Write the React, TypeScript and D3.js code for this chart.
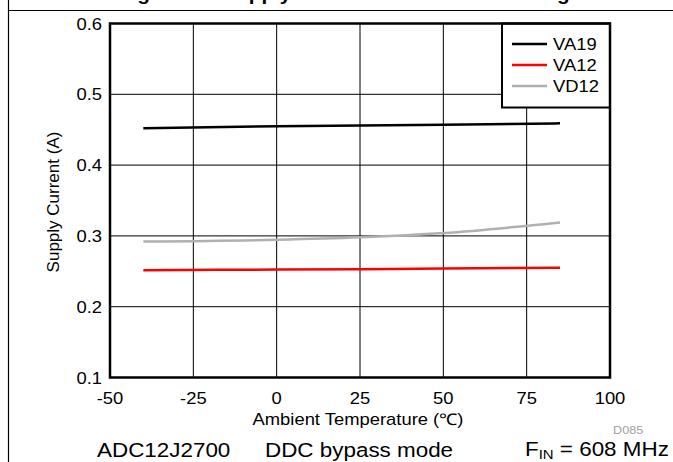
import React from "react";
import * as d3 from "d3";

const temps = [-40, 0, 25, 50, 85];
const va19 = [0.452, 0.455, 0.456, 0.457, 0.459];
const va12 = [0.2515, 0.2525, 0.253, 0.254, 0.255];
const vd12 = [0.292, 0.2945, 0.298, 0.304, 0.319];
const seriesNames = ["VA19", "VA12", "VD12"];
const seriesColors = ["#000000", "#ff0000", "#b0b0b0"];
const xTicks = [-50, -25, 0, 25, 50, 75, 100];
const yTicks = [0.1, 0.2, 0.3, 0.4, 0.5, 0.6];

const W = 673;
const H = 462;
const FONT = "'Liberation Sans', Arial, Helvetica, sans-serif";
const SX = 1.15;

function T(props: {
  x: number;
  y: number;
  size: number;
  anchor?: string;
  fill?: string;
  weight?: string;
  children: React.ReactNode;
}) {
  const { x, y, size, anchor = "start", fill = "#000", weight = "normal" } = props;
  return (
    <text
      transform={`translate(${x},${y}) scale(${SX},1)`}
      fontSize={size}
      textAnchor={anchor}
      fill={fill}
      fontWeight={weight}
      fontFamily={FONT}
    >
      {props.children}
    </text>
  );
}

export default function App() {
  const x = d3.scaleLinear().domain([-50, 100]).range([110, 610]);
  const y = d3.scaleLinear().domain([0.1, 0.6]).range([377.5, 23.5]);
  const series = [va19, va12, vd12];
  const line = d3
    .line<[number, number]>()
    .x((d) => x(d[0]))
    .y((d) => y(d[1]))
    .curve(d3.curveMonotoneX);

  const legX = 502;
  const legY = 23.5;

  return (
    <svg
      width={W}
      height={H}
      style={{ position: "absolute", left: 0, top: 0, background: "#fff" }}
    >
      <rect x={0} y={0} width={W} height={H} fill="#fff" />
      {/* frame */}
      <line x1={8.5} y1={0} x2={8.5} y2={H} stroke="#000" strokeWidth={1.2} />
      <line x1={8} y1={10.5} x2={W} y2={10.5} stroke="#000" strokeWidth={1.2} />
      {/* clipped title (only its lowest part shows, as in the reference) */}
      <T x={119} y={-0.5} size={18} weight="bold">
        Figure 85. Supply Current vs Ambient Heating
      </T>

      {/* grid */}
      {xTicks.slice(1, -1).map((t) => (
        <line key={"gx" + t} x1={x(t)} x2={x(t)} y1={y(0.6)} y2={y(0.1)} stroke="#000" strokeWidth={1} />
      ))}
      {yTicks.slice(1, -1).map((t) => (
        <line key={"gy" + t} x1={x(-50)} x2={x(100)} y1={y(t)} y2={y(t)} stroke="#000" strokeWidth={1} />
      ))}

      {/* series */}
      {series.map((s, i) => (
        <path
          key={seriesNames[i]}
          d={line(temps.map((t, j) => [t, s[j]] as [number, number])) || ""}
          fill="none"
          stroke={seriesColors[i]}
          strokeWidth={2.5}
        />
      ))}

      {/* legend */}
      <rect
        x={legX}
        y={legY}
        width={x(100) - legX}
        height={84}
        fill="#fff"
        stroke="#000"
        strokeWidth={2}
      />
      {seriesNames.map((n, i) => (
        <g key={"leg" + n}>
          <line
            x1={512}
            x2={547}
            y1={44 + i * 21}
            y2={44 + i * 21}
            stroke={seriesColors[i]}
            strokeWidth={2.5}
          />
          <T x={553} y={44 + i * 21 + 6} size={16}>
            {n}
          </T>
        </g>
      ))}

      {/* plot border */}
      <rect
        x={x(-50)}
        y={y(0.6)}
        width={x(100) - x(-50)}
        height={y(0.1) - y(0.6)}
        fill="none"
        stroke="#000"
        strokeWidth={2.5}
      />

      {/* tick labels */}
      {xTicks.map((t) => (
        <T key={"xt" + t} x={x(t)} y={404} size={16} anchor="middle">
          {String(t)}
        </T>
      ))}
      {yTicks.map((t) => (
        <T key={"yt" + t} x={102} y={y(t) + 6} size={16} anchor="end">
          {t.toFixed(1)}
        </T>
      ))}

      {/* axis titles */}
      <T x={358} y={425} size={16} anchor="middle">
        Ambient Temperature (℃)
      </T>
      <text
        transform={`translate(59,202) rotate(-90)`}
        fontSize={17}
        textAnchor="middle"
        fontFamily={FONT}
      >
        Supply Current (A)
      </text>

      <T x={613} y={434} size={11} fill="#a0a0a0">
        D085
      </T>

      {/* bottom notes */}
      <T x={97} y={457} size={19.5}>
        ADC12J2700
      </T>
      <T x={265} y={457} size={19.5}>
        DDC bypass mode
      </T>
      <text
        transform={`translate(525,456) scale(${SX},1)`}
        fontSize={19.5}
        fontFamily={FONT}
      >
        F
        <tspan fontSize={13} dy={3}>
          IN
        </tspan>
        <tspan dy={-3}> = 608 MHz</tspan>
      </text>
    </svg>
  );
}
